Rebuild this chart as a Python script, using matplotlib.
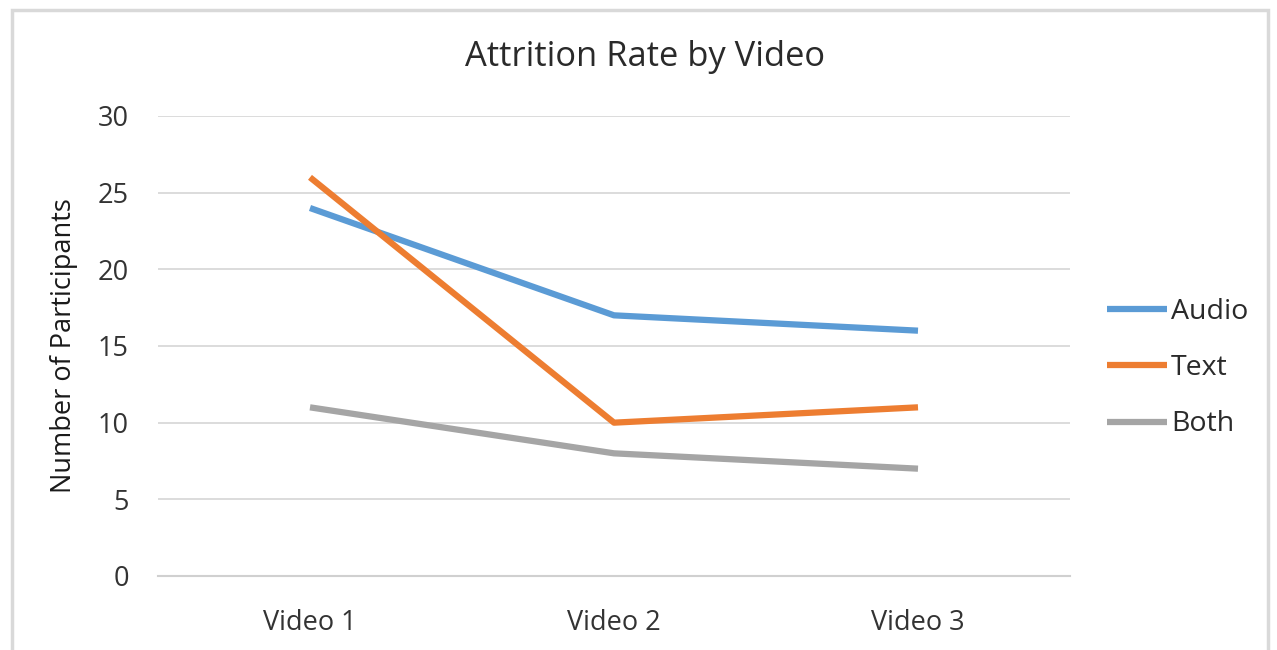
import matplotlib
matplotlib.use("Agg")
import matplotlib.pyplot as plt
from matplotlib.patches import Rectangle

categories = ["Video 1", "Video 2", "Video 3"]
series_names = ["Audio", "Text", "Both"]
audio = [24, 17, 16]
text = [26, 10, 11]
both = [11, 8, 7]
yticks = [0, 5, 10, 15, 20, 25, 30]

colors = ["#5B9BD5", "#ED7D31", "#A5A5A5"]

plt.rcParams['font.family'] = ['Open Sans', 'DejaVu Sans']

W, H = 1277, 650
fig = plt.figure(figsize=(W / 100, H / 100), dpi=100)

# outer chart border
fig.patches.append(Rectangle((12 / W, -0.05), (1268 - 12) / W, 1.05 - 10 / H,
                             transform=fig.transFigure, fill=False,
                             edgecolor="#d9d9d9", linewidth=2.5))

left, right = 158 / W, 1070 / W
bottom, top = 1 - 576 / H, 1 - 116 / H
ax = fig.add_axes([left, bottom, right - left, top - bottom])

x = list(range(len(categories)))
for name, vals, c in zip(series_names, [audio, text, both], colors):
    ax.plot(x, vals, color=c, linewidth=4.5, label=name, solid_capstyle="butt",
            solid_joinstyle="round", zorder=3)

ax.set_xlim(-0.5, 2.5)
ax.set_ylim(0, 30)
ax.set_yticks(yticks)
ax.set_xticks(x)
ax.set_xticklabels(categories)
ax.grid(axis="y", color="#d9d9d9", linewidth=1.3)
ax.set_axisbelow(True)
for s in ["top", "right", "left"]:
    ax.spines[s].set_visible(False)
ax.spines["bottom"].set_color("#d0d0d0")
ax.spines["bottom"].set_linewidth(1.5)
ax.tick_params(axis="both", length=0, labelsize=19.5, labelcolor="#333333")
ax.tick_params(axis="y", pad=21)
ax.tick_params(axis="x", pad=24)
ax.set_ylabel("Number of Participants", fontsize=19.5, color="#1a1a1a")
ax.yaxis.set_label_coords((78 - 158) / (1070 - 158), 0.5)

fig.text(645 / W, 1 - 57 / H, "Attrition Rate by Video", fontsize=24.8,
         color="#2a2a2a", ha="center", va="center")

leg = ax.legend(loc="center left", bbox_to_anchor=(1107 / W, 1 - 368 / H),
                bbox_transform=fig.transFigure, frameon=False, fontsize=20.5,
                handlelength=2.1, handletextpad=0.15, labelspacing=1.0,
                borderpad=0, borderaxespad=0, labelcolor="#2a2a2a")

fig.savefig("out.png", dpi=100)
